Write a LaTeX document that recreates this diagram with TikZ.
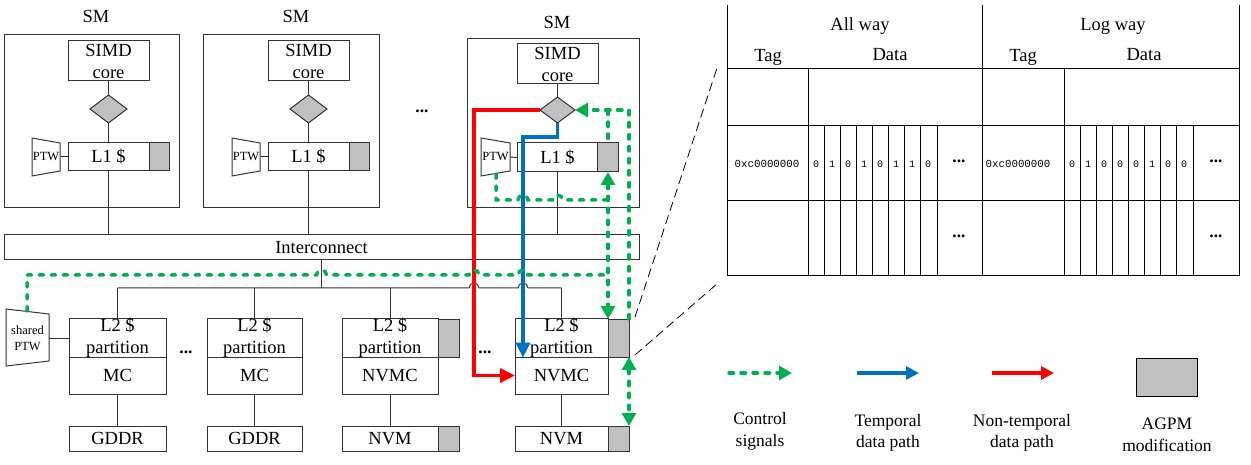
\documentclass[tikz,border=0pt]{standalone}
\usepackage{fontspec}
\setmainfont{Liberation Serif}
\newfontfamily\monof{Liberation Mono}
\usetikzlibrary{arrows.meta,shapes.geometric}
\definecolor{cgreen}{HTML}{00B050}
\definecolor{cblue}{HTML}{0070C0}
\definecolor{cred}{HTML}{FF0000}
\definecolor{agray}{HTML}{C0C0C0}
\begin{document}
\begin{tikzpicture}[x=1pt,y=1pt,
  every node/.style={inner sep=0pt, outer sep=0pt},
  lbl/.style={font=\fontsize{18.5}{22}\selectfont, align=center},
  leg/.style={font=\fontsize{17.5}{21.5}\selectfont, align=center},
  small/.style={font=\fontsize{12.5}{16}\selectfont, align=center},
  dots/.style={font=\fontsize{17.5}{22}\selectfont\bfseries},
  blk/.style={draw=black!80, line width=1pt, lbl},
  gbox/.style={draw=black!80, line width=1pt, fill=agray},
  dia/.style={diamond, draw=black!80, line width=1pt, fill=agray},
  link/.style={draw=black!80, line width=1pt},
  tline/.style={draw=black, line width=1pt},
  mono/.style={font=\fontsize{10.8}{12}\monof},
  bit/.style={font=\fontsize{10}{12}\monof},
  ctrl/.style={draw=cgreen, line width=3.5pt, dash pattern=on 4.5pt off 7.5pt, line cap=round},
  ctrlar/.style={ctrl, -{Triangle[length=13pt,width=14pt]}},
  ctrlar2/.style={ctrl, {Triangle[length=13pt,width=14pt]}-{Triangle[length=13pt,width=14pt]}},
  tpath/.style={draw=cblue, line width=3.5pt, -{Triangle[length=15pt,width=14pt]}},
  npath/.style={draw=cred, line width=3.5pt, -{Triangle[length=15pt,width=14pt]}},
  lead/.style={draw=black, line width=0.8pt, dash pattern=on 9pt off 5pt}
]
\useasboundingbox (0,0) rectangle (1251,-465);

% ---------------- SMs ----------------
\node[blk, minimum width=175pt, minimum height=173pt] (sm1) at (91.5,-121.5) {};
\node[blk, minimum width=176pt, minimum height=173pt] (sm2) at (291,-121.5) {};
\node[blk, minimum width=172pt, minimum height=169pt] (sm3) at (553,-123.5) {};
\node[lbl] (sm1t) at (96,-16.5) {SM};
\node[lbl] (sm2t) at (296,-16.5) {SM};
\node[lbl] (sm3t) at (557,-22.5) {SM};
\node[dots] (dsm) at (422,-111) {...};

\node[blk, minimum width=81pt, minimum height=40pt] (simd1) at (108.5,-61) {SIMD\\core};
\node[blk, minimum width=81pt, minimum height=40pt] (simd2) at (308.5,-61) {SIMD\\core};
\node[blk, minimum width=81pt, minimum height=40pt] (simd3) at (557.5,-64) {SIMD\\core};

\node[dia, minimum width=37pt, minimum height=28pt] (d1) at (108.5,-109) {};
\node[dia, minimum width=37pt, minimum height=28pt] (d2) at (308.5,-109) {};
\node[dia, minimum width=35pt, minimum height=26pt] (d3) at (557.5,-110) {};

\node[blk, minimum width=81pt, minimum height=28pt] (l1a) at (108.5,-157) {L1 \$};
\node[gbox, minimum width=20pt, minimum height=28pt] (g1a) at (159,-157) {};
\node[blk, minimum width=81pt, minimum height=28pt] (l1b) at (308.5,-157) {L1 \$};
\node[gbox, minimum width=20pt, minimum height=28pt] (g1b) at (359,-157) {};
\node[blk, minimum width=81pt, minimum height=29pt] (l1c) at (557.5,-157.5) {L1 \$};
\node[gbox, minimum width=21pt, minimum height=29pt] (g1c) at (608,-157.5) {};

% PTWs
\draw[link] (32,-138) -- (60,-143) -- (60,-171) -- (32,-176) -- cycle;
\draw[link] (232,-138) -- (260,-143) -- (260,-171) -- (232,-176) -- cycle;
\draw[link] (481,-138) -- (510,-143) -- (510,-171) -- (481,-176) -- cycle;
\node[small] (ptw1) at (46,-157) {PTW};
\node[small] (ptw2) at (246,-157) {PTW};
\node[small] (ptw3) at (495.5,-157) {PTW};
\coordinate (ptw1r) at (60,-157);
\coordinate (ptw2r) at (260,-157);
\coordinate (ptw3r) at (510,-157);
\draw[link] (ptw1r) -- (l1a.west);
\draw[link] (ptw2r) -- (l1b.west);
\draw[link] (ptw3r) -- (l1c.west);

% ---------------- Interconnect ----------------
\node[blk, minimum width=635pt, minimum height=25pt] (ic) at (321.5,-247.5) {Interconnect};

\draw[link] (simd1.south) -- (d1.north);
\draw[link] (d1.south) -- (l1a.north);
\draw[link] (simd2.south) -- (d2.north);
\draw[link] (d2.south) -- (l1b.north);
\draw[link] (simd3.south) -- (d3.north);
\draw[link] (l1a.south) -- (l1a.south |- ic.north);
\draw[link] (l1b.south) -- (l1b.south |- ic.north);
\draw[link] (l1c.south) -- (l1c.south |- ic.north);

% ---------------- L2 / MC ----------------
\node[blk, minimum width=97pt, minimum height=38pt] (l2a) at (117.5,-338) {L2 \$\\partition};
\node[blk, minimum width=97pt, minimum height=37pt] (mca) at (117.5,-375.5) {MC};
\node[blk, minimum width=97pt, minimum height=25pt] (gda) at (117.5,-438.5) {GDDR};

\node[blk, minimum width=95pt, minimum height=38pt] (l2b) at (254.5,-338) {L2 \$\\partition};
\node[blk, minimum width=95pt, minimum height=37pt] (mcb) at (254.5,-375.5) {MC};
\node[blk, minimum width=95pt, minimum height=25pt] (gdb) at (254.5,-438.5) {GDDR};

\node[blk, minimum width=96pt, minimum height=38pt] (l2c) at (390,-338) {L2 \$\\partition};
\node[gbox, minimum width=21pt, minimum height=38pt] (g2c) at (448.5,-338) {};
\node[blk, minimum width=96pt, minimum height=37pt] (mcc) at (390,-375.5) {NVMC};
\node[blk, minimum width=96pt, minimum height=25pt] (nvc) at (390,-438.5) {NVM};
\node[gbox, minimum width=21pt, minimum height=25pt] (g3c) at (448.5,-438.5) {};

\node[blk, minimum width=93pt, minimum height=38pt] (l2d) at (561.5,-338) {L2 \$\\partition};
\node[gbox, minimum width=21pt, minimum height=38pt] (g2d) at (618.5,-338) {};
\node[blk, minimum width=93pt, minimum height=37pt] (mcd) at (561.5,-375.5) {NVMC};
\node[blk, minimum width=93pt, minimum height=25pt] (nvd) at (561.5,-438.5) {NVM};
\node[gbox, minimum width=21pt, minimum height=25pt] (g3d) at (618.5,-438.5) {};

\node[dots] (dl2a) at (186,-352) {...};
\node[dots] (dl2b) at (485,-352) {...};

\draw[link] (mca.south) -- (gda.north);
\draw[link] (mcb.south) -- (gdb.north);
\draw[link] (mcc.south) -- (nvc.north);
\draw[link] (mcd.south) -- (nvd.north);

% shared PTW
\draw[link] (6,-309) -- (49,-314) -- (49,-361) -- (6,-366) -- cycle;
\node[small] (sptw) at (27.5,-338) {shared\\PTW};
\coordinate (sptwr) at (49,-338);
\draw[link] (sptwr) -- (l2a.west);

% bus
\coordinate (bus) at (321.5,-288);
\coordinate (tcol) at (523,-137);
\draw[link, line width=1.6pt] (ic.south) -- (bus);
\draw[link] (l2a.north |- bus) -- (469,-288) arc[start angle=180,end angle=0,radius=5]
  -- (518,-288) arc[start angle=180,end angle=0,radius=5] -- (l2d.north |- bus);
\draw[link] (l2a.north |- bus) -- (l2a.north);
\draw[link] (l2b.north |- bus) -- (l2b.north);
\draw[link] (l2c.north |- bus) -- (l2c.north);
\draw[link] (l2d.north |- bus) -- (l2d.north);

% ---------------- data paths ----------------
\draw[npath] (d3.west) -- (474,-110) -- (474,-375.5) -- (mcd.west);
\draw[tpath] (d3.south) -- (557.5,-137) -- (tcol) -- (tcol |- l2d.south);

% ---------------- control signals ----------------
\draw[ctrlar] (g2d.north east) -- (629,-110) -- (d3.east);
\draw[ctrl] (608,-110) -- (g1c.north);
\draw[ctrlar2] (g1c.south) -- (g1c.south |- g2d.north);
\draw[ctrl] (496,-174) -- (496,-200) -- (518,-200) arc[start angle=180,end angle=0,radius=5]
  -- (552.5,-200) arc[start angle=180,end angle=0,radius=5] -- (608,-200);
\draw[ctrl] (27,-311) -- (27,-275) -- (316.5,-275) arc[start angle=180,end angle=0,radius=5]
  -- (469,-275) arc[start angle=180,end angle=0,radius=5]
  -- (518,-275) arc[start angle=180,end angle=0,radius=5] -- (608,-275);
\draw[ctrlar2] (629,-357) -- (629,-426);

% leader lines
\coordinate (lz1) at (635,-317);
\coordinate (lz2) at (635,-355);
\coordinate (lt1) at (718,-65);
\coordinate (lt2) at (718,-283);
\draw[lead] (lz1) -- (lt1);
\draw[lead] (lz2) -- (lt2);

% ---------------- table ----------------
\draw[tline] (727,-5) -- (727,-276);
\draw[tline] (982,-5) -- (982,-276);
\draw[tline] (1239,-5) -- (1239,-276);
\foreach \yy in {69,126,201,276} \draw[tline] (727,-\yy) -- (1239,-\yy);
\draw[tline] (808,-69) -- (808,-276);
\draw[tline] (1064,-69) -- (1064,-276);
\foreach \xx in {824,840,856,872,888,904,920,937} \draw[tline] (\xx,-126) -- (\xx,-276);
\foreach \xx in {1080,1096,1112,1128,1144,1160,1176,1193} \draw[tline] (\xx,-126) -- (\xx,-276);

\node[lbl] (allw) at (860,-26.5) {All way};
\node[lbl] (tag1) at (768,-57.5) {Tag};
\node[lbl] (data1) at (890,-55) {Data};
\node[lbl] (logw) at (1113,-26.5) {Log way};
\node[lbl] (tag2) at (1023,-57.5) {Tag};
\node[lbl] (data2) at (1144,-55) {Data};

\node[mono] (hex1) at (767,-164) {0xc0000000};
\node[mono] (hex2) at (1018,-164) {0xc0000000};
\foreach \b [count=\i] in {0,1,0,1,0,1,1,0} \node[bit] (ba\i) at ({800+16*\i},-164) {\b};
\foreach \b [count=\i] in {0,1,0,0,0,1,0,0} \node[bit] (bl\i) at ({1056+16*\i},-164) {\b};
\node[dots] (ta1) at (959,-161) {...};
\node[dots] (ta2) at (959,-236) {...};
\node[dots] (tl1) at (1216,-161) {...};
\node[dots] (tl2) at (1216,-236) {...};

% ---------------- legend ----------------
\coordinate (lg1a) at (729,-373); \coordinate (lg1b) at (792,-373);
\coordinate (lg2a) at (857,-373); \coordinate (lg2b) at (919,-373);
\coordinate (lg3a) at (992,-373); \coordinate (lg3b) at (1054,-373);
\draw[ctrlar] (lg1a) -- (lg1b);
\draw[tpath, -{Triangle[length=13pt,width=13pt]}] (lg2a) -- (lg2b);
\draw[npath, -{Triangle[length=13pt,width=13pt]}] (lg3a) -- (lg3b);
\node[gbox, draw=black, minimum width=61pt, minimum height=38pt] (lg4) at (1166.5,-377) {};
\node[leg] (lt1t) at (760,-431.5) {Control\\signals};
\node[leg] (lt2t) at (888,-433) {Temporal\\data path};
\node[leg] (lt3t) at (1022,-433) {Non-temporal\\data path};
\node[leg] (lt4t) at (1167,-435) {AGPM\\modification};
\end{tikzpicture}
\end{document}
